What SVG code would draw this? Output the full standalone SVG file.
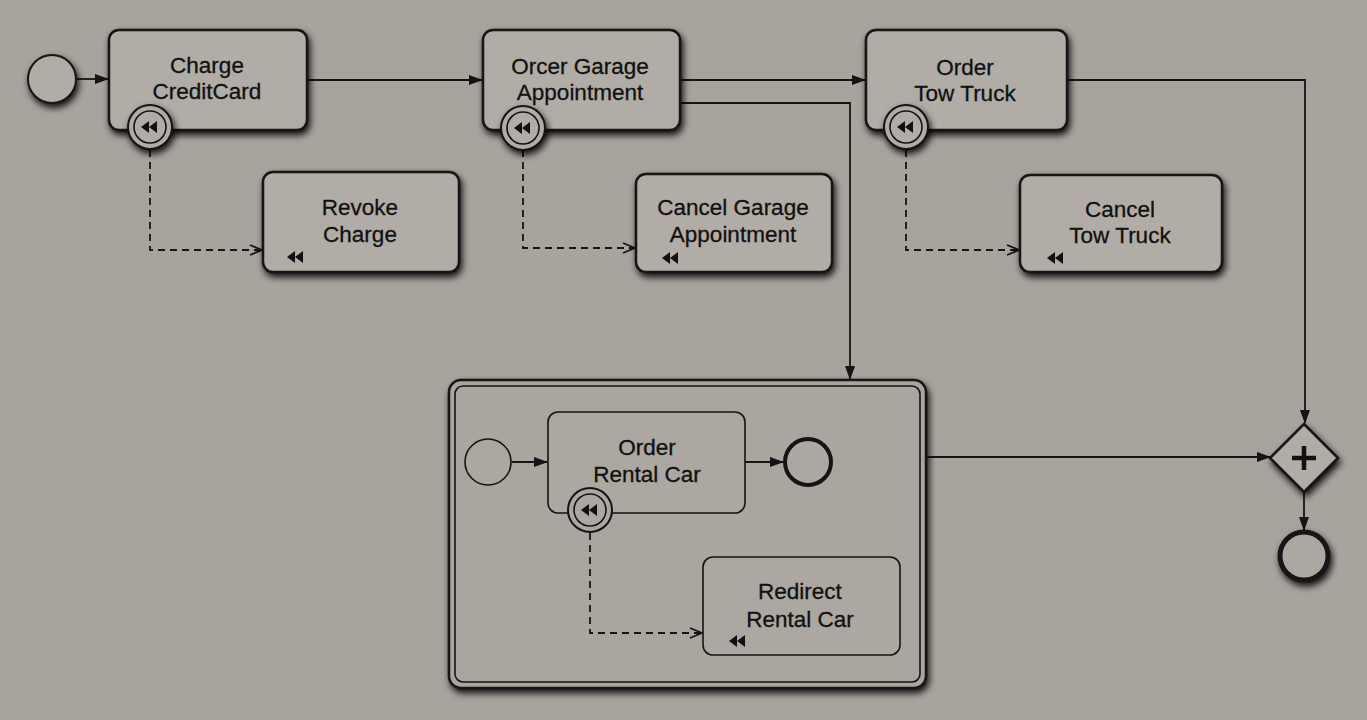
<svg xmlns="http://www.w3.org/2000/svg" xmlns:xlink="http://www.w3.org/1999/xlink" width="1367" height="720" viewBox="0 0 1367 720">
<style>
.bg{fill:#a8a39d}
.task{fill:#b1aca6;stroke:#141414;stroke-width:2.5}
.itask{fill:#aca7a1;stroke:#141414;stroke-width:1.6}
.ev{fill:#b1aca6;stroke:#141414;stroke-width:2}
.evend{fill:#aca7a1;stroke:#141414;stroke-width:5}
.flow{fill:none;stroke:#141414;stroke-width:1.8}
.assoc{fill:none;stroke:#141414;stroke-width:1.8;stroke-dasharray:7,5}
.lbl{font-family:"Liberation Sans",Arial,sans-serif;font-size:22.5px;fill:#111;text-anchor:middle;stroke:#111;stroke-width:0.3}
.glyph{fill:#111}
</style>
<defs>
<filter id="sh" x="-15%" y="-15%" width="135%" height="145%">
<feDropShadow dx="2" dy="4" stdDeviation="3.5" flood-color="#000" flood-opacity="0.9"/>
</filter>
<marker id="arr" viewBox="0 0 14 10" refX="13" refY="5" markerWidth="14" markerHeight="10" markerUnits="userSpaceOnUse" orient="auto">
<path d="M0,0 L14,5 L0,10 Z" fill="#141414"/>
</marker>
<marker id="open" viewBox="0 0 14 12" refX="13" refY="6" markerWidth="14" markerHeight="12" markerUnits="userSpaceOnUse" orient="auto">
<path d="M1,1 L13,6 L1,11" fill="none" stroke="#141414" stroke-width="1.8"/>
</marker>
<path id="comp" d="M-9,0 L-1,-6 L-1,6 Z M-1,0 L7,-6 L7,6 Z"/>
</defs>
<rect class="bg" x="0" y="0" width="1367" height="720"/>

<g id="subprocess">
<rect x="449" y="380" width="477" height="308" rx="12" fill="#aaa59f" stroke="#141414" stroke-width="2.5" filter="url(#sh)"/>
<rect x="455" y="386" width="465" height="296" rx="8" fill="none" stroke="#141414" stroke-width="1.6"/>
</g>

<g id="connectors">
<line class="flow" x1="76" y1="79" x2="108" y2="79" marker-end="url(#arr)"/>
<line class="flow" x1="307" y1="80" x2="482" y2="80" marker-end="url(#arr)"/>
<line class="flow" x1="680" y1="80" x2="865" y2="80" marker-end="url(#arr)"/>
<polyline class="flow" points="680,103 850,103 850,379" marker-end="url(#arr)"/>
<polyline class="flow" points="1067,80 1305,80 1305,423" marker-end="url(#arr)"/>
<line class="flow" x1="926" y1="457" x2="1270" y2="457" marker-end="url(#arr)"/>
<line class="flow" x1="1304" y1="492" x2="1304" y2="530" marker-end="url(#arr)"/>
<line class="flow" x1="512" y1="462" x2="547" y2="462" marker-end="url(#arr)"/>
<line class="flow" x1="745" y1="462" x2="783" y2="462" marker-end="url(#arr)"/>
<polyline class="assoc" points="150,150 150,250 262,250" marker-end="url(#open)"/>
<polyline class="assoc" points="523,150 523,248 635,248" marker-end="url(#open)"/>
<polyline class="assoc" points="906,150 906,250 1019,250" marker-end="url(#open)"/>
<polyline class="assoc" points="590,533 590,633 702,633" marker-end="url(#open)"/>
</g>

<g id="start">
<circle class="ev" cx="52" cy="79" r="24" filter="url(#sh)"/>
</g>

<g id="charge">
<rect class="task" x="109" y="30" width="198" height="100" rx="10" filter="url(#sh)"/>
<text class="lbl" x="207" y="73">Charge</text>
<text class="lbl" x="207" y="99">CreditCard</text>
</g>
<g id="charge-comp">
<circle class="ev" cx="150" cy="127" r="22" filter="url(#sh)"/>
<circle fill="none" stroke="#141414" stroke-width="1.6" cx="150" cy="127" r="16"/>
<use href="#comp" class="glyph" x="150" y="127"/>
</g>

<g id="revoke">
<rect class="task" x="263" y="172" width="196" height="100" rx="10" filter="url(#sh)"/>
<text class="lbl" x="360" y="215">Revoke</text>
<text class="lbl" x="360" y="242">Charge</text>
<use href="#comp" class="glyph" x="296" y="257"/>
</g>

<g id="garage">
<rect class="task" x="483" y="30" width="197" height="100" rx="10" filter="url(#sh)"/>
<text class="lbl" x="580" y="74">Orcer Garage</text>
<text class="lbl" x="580" y="100">Appointment</text>
</g>
<g id="garage-comp">
<circle class="ev" cx="523" cy="128" r="22" filter="url(#sh)"/>
<circle fill="none" stroke="#141414" stroke-width="1.6" cx="523" cy="128" r="16"/>
<use href="#comp" class="glyph" x="523" y="128"/>
</g>

<g id="cancel-garage">
<rect class="task" x="636" y="174" width="196" height="98" rx="10" filter="url(#sh)"/>
<text class="lbl" x="733" y="215">Cancel Garage</text>
<text class="lbl" x="733" y="242">Appointment</text>
<use href="#comp" class="glyph" x="671" y="258"/>
</g>

<g id="tow">
<rect class="task" x="866" y="30" width="201" height="100" rx="10" filter="url(#sh)"/>
<text class="lbl" x="965" y="75">Order</text>
<text class="lbl" x="965" y="101">Tow Truck</text>
</g>
<g id="tow-comp">
<circle class="ev" cx="906" cy="127" r="22" filter="url(#sh)"/>
<circle fill="none" stroke="#141414" stroke-width="1.6" cx="906" cy="127" r="16"/>
<use href="#comp" class="glyph" x="906" y="127"/>
</g>

<g id="cancel-tow">
<rect class="task" x="1020" y="175" width="202" height="97" rx="10" filter="url(#sh)"/>
<text class="lbl" x="1120" y="217">Cancel</text>
<text class="lbl" x="1120" y="243">Tow Truck</text>
<use href="#comp" class="glyph" x="1056" y="258"/>
</g>

<g id="sub-start">
<circle fill="#aca7a1" stroke="#141414" stroke-width="1.6" cx="488" cy="462" r="23"/>
</g>

<g id="rental">
<rect class="itask" x="548" y="412" width="197" height="101" rx="10"/>
<text class="lbl" x="647" y="455">Order</text>
<text class="lbl" x="647" y="482">Rental Car</text>
</g>
<g id="rental-comp">
<circle fill="#aca7a1" stroke="#141414" stroke-width="2" cx="590" cy="510" r="22"/>
<circle fill="none" stroke="#141414" stroke-width="1.6" cx="590" cy="510" r="16"/>
<use href="#comp" class="glyph" x="590" y="510"/>
</g>

<g id="sub-end">
<circle fill="#aca7a1" stroke="#141414" stroke-width="4" cx="808" cy="462" r="23"/>
</g>

<g id="redirect">
<rect class="itask" x="703" y="557" width="197" height="98" rx="10"/>
<text class="lbl" x="800" y="599">Redirect</text>
<text class="lbl" x="800" y="627">Rental Car</text>
<use href="#comp" class="glyph" x="738" y="641"/>
</g>

<g id="gateway">
<polygon points="1304,424 1338,458 1304,492 1270,458" fill="#b1aca6" stroke="#141414" stroke-width="2.5" filter="url(#sh)"/>
<path d="M1304,446 V470 M1292,458 H1316" stroke="#111" stroke-width="4.5"/>
</g>

<g id="end">
<circle class="evend" cx="1304" cy="556" r="24" filter="url(#sh)"/>
</g>
</svg>
